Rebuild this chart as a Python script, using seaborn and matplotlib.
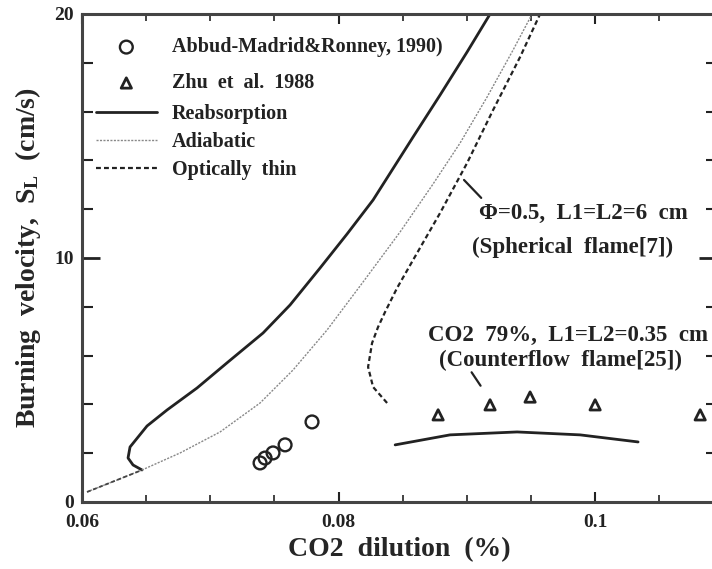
import matplotlib
matplotlib.use("Agg")
import matplotlib.pyplot as plt
import seaborn as sns

# ---------------- data ----------------
reab_x = [0.064678, 0.063977, 0.063587, 0.063743, 0.065068, 0.066628, 0.068967,
          0.071384, 0.074113, 0.076218, 0.078558, 0.080663, 0.082690, 0.085809,
          0.087914, 0.090019, 0.091813]
reab_y = [1.311, 1.516, 1.803, 2.254, 3.115, 3.770, 4.672,
          5.738, 6.926, 8.074, 9.590, 10.984, 12.377, 14.959,
          16.680, 18.443, 20.0]

adia_x = [0.060390, 0.064678, 0.067641, 0.070760, 0.073879, 0.076452, 0.079103,
          0.081910, 0.084795, 0.087368, 0.089474, 0.091579, 0.093606, 0.095088]
adia_y = [0.410, 1.311, 2.008, 2.869, 4.057, 5.410, 7.049,
          9.016, 11.066, 13.033, 14.713, 16.598, 18.525, 20.0]

thin_x = [0.083782, 0.082690, 0.082300, 0.082612, 0.083080, 0.083626, 0.084561,
          0.085809, 0.087914, 0.090019, 0.092047, 0.094152, 0.095712]
thin_y = [4.057, 4.713, 5.533, 6.516, 7.172, 7.787, 8.770,
          9.918, 11.844, 13.893, 16.066, 18.238, 20.0]

thin_low_x = [0.06039, 0.06468]
thin_low_y = [0.41, 1.31]

counter_x = [0.08441, 0.08869, 0.09392, 0.09883, 0.10335]
counter_y = [2.34, 2.75, 2.87, 2.75, 2.46]

abbud_x = [0.07388, 0.07427, 0.07489, 0.07583, 0.07793]
abbud_y = [1.60, 1.80, 2.01, 2.34, 3.28]

zhu_x = [0.08776, 0.09181, 0.09493, 0.10000, 0.10819]
zhu_y = [3.57, 3.98, 4.30, 3.98, 3.57]

x_ticks = [0.06, 0.08, 0.10]
x_tick_labels = ["0.06", "0.08", "0.1"]
y_ticks = [0, 10, 20]
y_tick_labels = ["0", "10", "20"]

# ---------------- style ----------------
sns.set_style("ticks")
plt.rcParams["font.family"] = ["Liberation Serif", "DejaVu Serif"]
plt.rcParams["font.weight"] = "bold"
plt.rcParams["mathtext.fontset"] = "custom"
plt.rcParams["mathtext.rm"] = "Liberation Serif:bold"
plt.rcParams["mathtext.it"] = "Liberation Serif:bold"

fig = plt.figure(figsize=(7.12, 5.69), dpi=100)
ax = fig.add_axes([0.1152, 0.1178, 0.8918, 0.8576])

dark = "#222222"

sns.lineplot(x=reab_x, y=reab_y, sort=False, estimator=None, ax=ax,
             color=dark, lw=2.0, label="Reabsorption")
sns.lineplot(x=adia_x, y=adia_y, sort=False, estimator=None, ax=ax,
             color="#888888", lw=1.0, linestyle=(0, (1.5, 1)), label="Adiabatic")
sns.lineplot(x=thin_x, y=thin_y, sort=False, estimator=None, ax=ax,
             color=dark, lw=1.6, linestyle=(0, (2.2, 1.4)), label="Optically  thin")
sns.lineplot(x=thin_low_x, y=thin_low_y, sort=False, estimator=None, ax=ax,
             color="#444444", lw=1.3, linestyle=(0, (2.2, 1.4)), label="_nolegend_")
sns.lineplot(x=counter_x, y=counter_y, sort=False, estimator=None, ax=ax,
             color=dark, lw=2.0, label="_nolegend_")
sns.scatterplot(x=abbud_x, y=abbud_y, ax=ax, marker="o", s=85,
                facecolor="none", edgecolor=dark, linewidth=1.7,
                label="Abbud-Madrid&Ronney, 1990)")
sns.scatterplot(x=zhu_x, y=zhu_y, ax=ax, marker="^", s=55,
                facecolor="none", edgecolor=dark, linewidth=2.0,
                label="Zhu  et  al.  1988")

ax.set_xlim(0.06, 0.1095)
ax.set_ylim(0, 20)
ax.set_xticks(x_ticks)
ax.set_xticklabels(x_tick_labels)
ax.set_yticks(y_ticks)
ax.set_yticklabels(y_tick_labels)
ax.set_xticks([0.065, 0.07, 0.075, 0.085, 0.09, 0.095, 0.105], minor=True)
ax.set_yticks([2, 4, 6, 8, 12, 14, 16, 18], minor=True)

ax.tick_params(axis="both", which="both", direction="in", top=True, right=True,
               colors=dark, labelsize=14)
ax.tick_params(axis="y", which="major", length=13, width=2, pad=6)
ax.tick_params(axis="y", which="minor", length=8, width=1.5)
ax.tick_params(axis="x", which="major", length=7, width=1.5, pad=9)
ax.tick_params(axis="x", which="minor", length=5, width=1.2)
for lab in ax.get_xticklabels() + ax.get_yticklabels():
    lab.set_fontweight("bold")

for sp in ax.spines.values():
    sp.set_linewidth(2.2)
    sp.set_color("#444444")

ax.set_xlabel("CO2  dilution  (%)", fontsize=20, fontweight="bold", labelpad=4)
ax.set_ylabel("Burning  velocity,  S$_{\\rm L}$  (cm/s)", fontsize=20,
              fontweight="bold", labelpad=8)

# legends in reference order (markers rows are spaced wider than line rows)
h, l = ax.get_legend_handles_labels()
hd = dict(zip(l, h))
mk_order = ["Abbud-Madrid&Ronney, 1990)", "Zhu  et  al.  1988"]
ln_order = ["Reabsorption", "Adiabatic", "Optically  thin"]
leg_kw = dict(loc="upper left", frameon=False, fontsize=14.5, handlelength=3.0,
              handletextpad=0.75, borderaxespad=0.3, scatterpoints=1)
leg1 = ax.legend([hd[k] for k in mk_order], mk_order,
                 bbox_to_anchor=(0.0, 0.981), labelspacing=0.79, **leg_kw)
for t in leg1.get_texts():
    t.set_fontweight("bold")
    t.set_color(dark)
ax.add_artist(leg1)
leg2 = ax.legend([hd[k] for k in ln_order], ln_order,
                 bbox_to_anchor=(0.0, 0.845), labelspacing=0.4, **leg_kw)
for t in leg2.get_texts():
    t.set_fontweight("bold")
    t.set_color(dark)

# annotations
ann_kw = dict(ha="center", va="center", fontsize=16.5, fontweight="bold", color=dark)
ax.text(0.09906, 11.84, "Φ=0.5,  L1=L2=6  cm", **ann_kw)
ax.text(0.09828, 10.45, "(Spherical  flame[7])", **ann_kw)
ax.text(0.09789, 6.84, "CO2  79%,  L1=L2=0.35  cm", **ann_kw)
ax.text(0.09727, 5.82, "(Counterflow  flame[25])", **ann_kw)
ax.annotate("", xy=(0.08963, 13.28), xytext=(0.09127, 12.38),
            arrowprops=dict(arrowstyle="-", color=dark, lw=1.6))
ax.annotate("", xy=(0.09119, 4.67), xytext=(0.09025, 5.41),
            arrowprops=dict(arrowstyle="-", color=dark, lw=1.6))

fig.savefig("out.png", dpi=100)
